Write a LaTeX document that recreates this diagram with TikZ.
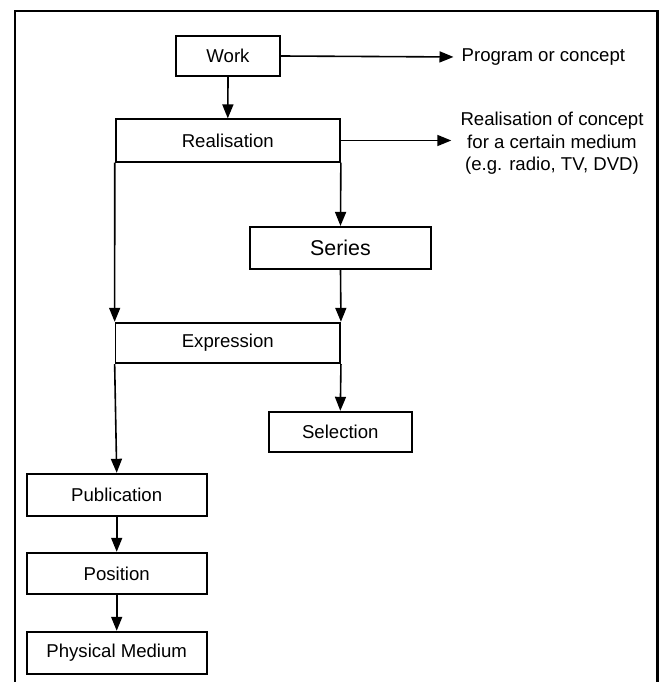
\documentclass[tikz,border=0pt]{standalone}
\usepackage{fontspec}
\setmainfont{Liberation Sans}
\usetikzlibrary{arrows.meta}

\tikzset{
  entity/.style={draw, line width=1.8pt, inner sep=0pt, align=center,
    font=\fontsize{18.6}{22.5}\selectfont},
  link/.style={line width=1.6pt, -{Triangle[length=14pt,width=11pt]}},
  note/.style={inner sep=2pt, align=center, font=\fontsize{18.6}{22.7}\selectfont}
}

\begin{document}
\begin{tikzpicture}[x=1pt, y=-1pt]
  \useasboundingbox (0,0) rectangle (660,682);
  \fill[white] (0,0) rectangle (660,682);

  % outer frame, open at the bottom
  \draw[line width=2.2pt] (15,682) -- (15,11) -- (657.5,11) -- (657.5,682);

  % entities
  \node[entity, minimum width=104pt, minimum height=40pt]   (work)   at (228,56)     {Work};
  \node[entity, minimum width=224.3pt, minimum height=42.4pt] (real)  at (227.8,140.5) {Realisation};
  \node[entity, minimum width=180.4pt, minimum height=42.3pt, font=\fontsize{21.4}{25}\selectfont]
                                                            (series) at (340.5,248)    {Series};
  \node[entity, minimum width=224.5pt, minimum height=40.6pt] (expr) at (227.8,343)    {Expression};
  \node[entity, minimum width=143.3pt, minimum height=40pt] (sel)    at (340.3,431.7)  {Selection};
  \node[entity, minimum width=180pt, minimum height=42pt]   (pub)    at (116.7,494.7)  {Publication};
  \node[entity, minimum width=180pt, minimum height=41.6pt] (pos)    at (116.7,573.5)  {Position};
  \node[entity, minimum width=180pt, minimum height=42pt]   (phys)   at (116.7,652.7)  {Physical Medium};

  % explanatory notes
  \node[note, anchor=west] (prog) at (459.5,57) {Program or concept};
  \node[note] (desc) at (552,143.3) {Realisation of concept\\for a certain medium\\(e.g. radio, TV, DVD)};

  % connectors
  \draw[link, shorten >=6pt] (work.east) -- (prog.west);
  \draw[link, shorten >=7pt] (real.east) -- (real.east -| desc.west);
  \draw[link] (work.south) -- (real.north);
  \draw[link] (real.south east) -- (series.north);
  \draw[link] (real.south west) -- (expr.north west);
  \draw[link] (series.south) -- (expr.north east);
  \draw[link] (expr.south east) -- (sel.north);
  \draw[link] (expr.south west) -- (pub.north);
  \draw[link] (pub.south) -- (pos.north);
  \draw[link] (pos.south) -- (phys.north);
\end{tikzpicture}
\end{document}
